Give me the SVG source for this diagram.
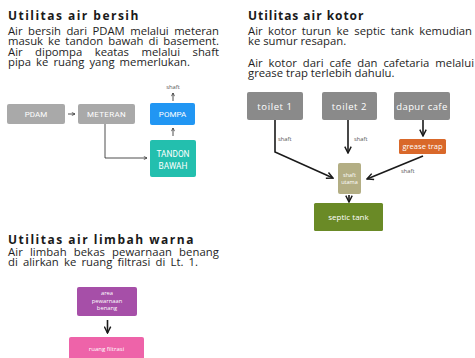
<svg xmlns="http://www.w3.org/2000/svg" width="475" height="358" viewBox="0 0 475 358">
<style>
.title{font-family:"Open Sans","Noto Sans",sans-serif;font-weight:bold;font-size:12px;fill:#1a1a1a;letter-spacing:1.6px}
.body{font-family:"Open Sans","Noto Sans",sans-serif;font-size:11.3px;fill:#1e1e1e}
.lbl{font-family:"Roboto","Noto Sans",sans-serif;text-anchor:middle;fill:#ffffff}
.lbl2{font-family:"Open Sans","Noto Sans",sans-serif;text-anchor:middle;fill:#ffffff}
.note{font-family:"Open Sans","Noto Sans",sans-serif;font-size:5.8px;fill:#555}
.thin{stroke:#222;stroke-width:0.8;fill:none}
.thick{stroke:#1a1a1a;stroke-width:1.6;fill:none}
</style>
<defs>
<marker id="ah" viewBox="0 0 10 10" refX="9" refY="5" markerWidth="4" markerHeight="4" orient="auto" markerUnits="userSpaceOnUse">
<path d="M1,1 L9,5 L1,9" fill="none" stroke="#222" stroke-width="1.6"/>
</marker>
<marker id="ah2" viewBox="0 0 10 10" refX="9" refY="5" markerWidth="8" markerHeight="8" orient="auto" markerUnits="userSpaceOnUse">
<path d="M1,1 L9,5 L1,9" fill="none" stroke="#1a1a1a" stroke-width="1.8"/>
</marker>
</defs>
<rect width="475" height="358" fill="#ffffff"/>

<g id="text-bersih">
<text class="title" x="8" y="20" textLength="132" lengthAdjust="spacing">Utilitas air bersih</text>
<text class="body" x="8" y="35" word-spacing="2.6" textLength="211" lengthAdjust="spacing">Air bersih dari PDAM melalui meteran</text>
<text class="body" x="8" y="45.4" word-spacing="2.1" textLength="211" lengthAdjust="spacing">masuk ke tandon bawah di basement.</text>
<text class="body" x="8" y="55.8" word-spacing="9.5" textLength="211" lengthAdjust="spacing">Air dipompa keatas melalui shaft</text>
<text class="body" x="8" y="66" word-spacing="2" textLength="182" lengthAdjust="spacing">pipa ke ruang yang memerlukan.</text>
</g>

<g id="text-kotor">
<text class="title" x="248" y="20" textLength="117" lengthAdjust="spacing">Utilitas air kotor</text>
<text class="body" x="248" y="35" word-spacing="2.5" textLength="224" lengthAdjust="spacing">Air kotor turun ke septic tank kemudian</text>
<text class="body" x="248" y="45.2">ke sumur resapan.</text>
<text class="body" x="248" y="66.8" word-spacing="3" textLength="226" lengthAdjust="spacing">Air kotor dari cafe dan cafetaria melalui</text>
<text class="body" x="248" y="77">grease trap terlebih dahulu.</text>
</g>

<g id="text-limbah">
<text class="title" x="8" y="243.5" textLength="187" lengthAdjust="spacing">Utilitas air limbah warna</text>
<text class="body" x="8" y="255.7" word-spacing="4" textLength="211" lengthAdjust="spacing">Air limbah bekas pewarnaan benang</text>
<text class="body" x="8" y="265.9" word-spacing="2.2" textLength="190" lengthAdjust="spacing">di alirkan ke ruang filtrasi di Lt. 1.</text>
</g>

<g id="connectors">
<line class="thin" x1="68" y1="114" x2="75" y2="114" marker-end="url(#ah)"/>
<polyline class="thin" points="105,124 105,158 147,158" marker-end="url(#ah)"/>
<line class="thin" x1="173" y1="136" x2="173" y2="128" marker-end="url(#ah)"/>
<line class="thin" x1="173" y1="101" x2="173" y2="93" marker-end="url(#ah)"/>
<polyline class="thick" points="275,120 275,152 333,178" marker-end="url(#ah2)"/>
<line class="thick" x1="348" y1="120" x2="348" y2="153" marker-end="url(#ah2)"/>
<line class="thick" x1="423" y1="120" x2="423" y2="136" marker-end="url(#ah2)"/>
<line class="thick" x1="423" y1="156" x2="367" y2="179" marker-end="url(#ah2)"/>
<line class="thick" x1="349" y1="195" x2="349" y2="202" marker-end="url(#ah2)"/>
<line class="thick" x1="107.5" y1="320" x2="107.5" y2="333" marker-end="url(#ah2)"/>
<text class="note" x="173" y="89" text-anchor="middle">shaft</text>
<text class="note" x="278" y="141">shaft</text>
<text class="note" x="354" y="141">shaft</text>
<text class="note" x="401" y="173">shaft</text>
</g>

<g id="pdam">
<rect x="7" y="104" width="58" height="20" rx="2" fill="#a9a9a9"/>
<text class="lbl" x="36" y="116.8" font-size="8" fill="#ececec">PDAM</text>
</g>
<g id="meteran">
<rect x="78" y="104" width="57" height="20" rx="2" fill="#a9a9a9"/>
<text class="lbl" x="106.5" y="116.8" font-size="8" letter-spacing="0.3" fill="#ececec">METERAN</text>
</g>
<g id="pompa">
<rect x="150" y="103" width="45" height="22" rx="2" fill="#2196f3"/>
<text class="lbl" x="172.5" y="117" font-size="8">POMPA</text>
</g>
<g id="tandon">
<rect x="150" y="140" width="46" height="37" rx="2" fill="#23bfae"/>
<text class="lbl" x="173" y="156.5" font-size="8.3">TANDON</text>
<text class="lbl" x="173" y="168.5" font-size="8.3">BAWAH</text>
</g>

<g id="toilet1">
<rect x="247" y="92" width="56" height="28" rx="2" fill="#8a8a8a"/>
<text class="lbl2" x="275" y="109.5" font-size="9.5" letter-spacing="0.6">toilet 1</text>
</g>
<g id="toilet2">
<rect x="322" y="92" width="55" height="28" rx="2" fill="#8a8a8a"/>
<text class="lbl2" x="349.5" y="109.5" font-size="9.5" letter-spacing="0.6">toilet 2</text>
</g>
<g id="dapur">
<rect x="394" y="92" width="56" height="28" rx="2" fill="#8a8a8a"/>
<text class="lbl2" x="422" y="109.5" font-size="9.5" letter-spacing="0.4">dapur cafe</text>
</g>
<g id="grease">
<rect x="399" y="139" width="47" height="15" rx="1.5" fill="#d9682a"/>
<text class="lbl2" x="422.5" y="149.3" font-size="7.6">grease trap</text>
</g>
<g id="shaftutama">
<rect x="338" y="163" width="23" height="31" rx="2" fill="#b3ae84"/>
<text class="lbl2" x="349.5" y="176.5" font-size="5.5">shaft</text>
<text class="lbl2" x="349.5" y="184" font-size="5.5">utama</text>
</g>
<g id="septic">
<rect x="314" y="203" width="69" height="28" rx="1.5" fill="#6a8a26"/>
<text class="lbl2" x="348.5" y="219.5" font-size="8">septic tank</text>
</g>

<g id="pewarnaan">
<rect x="77" y="287" width="60" height="29" rx="2" fill="#a64fa8"/>
<text class="lbl2" x="107" y="295" font-size="5.8">area</text>
<text class="lbl2" x="107" y="302.5" font-size="5.8">pewarnaan</text>
<text class="lbl2" x="107" y="310" font-size="5.8">benang</text>
</g>
<g id="filtrasi">
<rect x="69" y="337" width="75" height="25" rx="2" fill="#ee63a9"/>
<text class="lbl2" x="106.5" y="351" font-size="6">ruang filtrasi</text>
</g>
</svg>
